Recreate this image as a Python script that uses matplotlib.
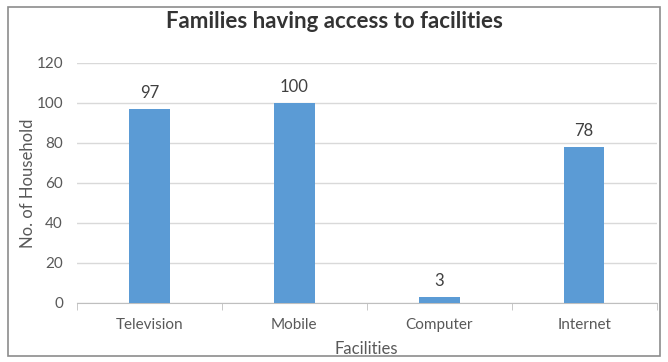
import matplotlib.pyplot as plt
from matplotlib.patches import Rectangle

# Data
facilities = ['Television', 'Mobile', 'Computer', 'Internet']
households = [97, 100, 3, 78]
y_ticks = [0, 20, 40, 60, 80, 100, 120]

plt.rcParams['font.family'] = ['Lato', 'DejaVu Sans']

fig = plt.figure(figsize=(6.68, 3.62), dpi=100)
ax = fig.add_axes([0.115, 0.163, 0.868, 0.663])

x = range(len(facilities))
ax.bar(x, households, width=0.28, color='#5B9BD5', zorder=3)

# data labels
for i, v in enumerate(households):
    ax.text(i, v + 4, str(v), ha='center', va='bottom', fontsize=12, color='#404040')

ax.set_xlim(-0.5, len(facilities) - 0.5)
ax.set_ylim(0, 120)
ax.set_yticks(y_ticks)
ax.set_xticks(list(x))
ax.set_xticklabels(facilities)
ax.yaxis.grid(True, color='#d9d9d9', linewidth=1, zorder=0)
ax.tick_params(axis='y', length=0, labelsize=11, labelcolor='#595959', pad=10)
ax.tick_params(axis='x', length=0, labelsize=11, labelcolor='#595959', pad=11)

# category separator ticks on x axis
ax.set_xticks([i - 0.5 for i in range(len(facilities) + 1)], minor=True)
ax.tick_params(axis='x', which='minor', length=5, color='#bfbfbf', direction='out')

for s in ['top', 'right', 'left']:
    ax.spines[s].set_visible(False)
ax.spines['bottom'].set_color('#bfbfbf')

ax.set_xlabel('Facilities', fontsize=12, color='#595959', labelpad=6)
ax.set_ylabel('No. of Household', fontsize=12, color='#595959', labelpad=0)

fig.text(0.5, 0.94, 'Families having access to facilities', ha='center', va='center',
         fontsize=16, fontweight='bold', color='#333333')

# outer chart border
fig.patches.append(Rectangle((0.012, 0.017), 0.976, 0.963, transform=fig.transFigure,
                             fill=False, edgecolor='#8c8c8c', linewidth=1.2))

plt.savefig('out.png', dpi=100)
plt.close()
